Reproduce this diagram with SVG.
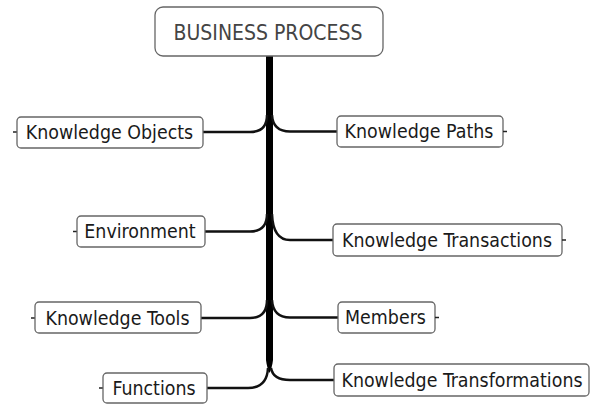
<svg xmlns="http://www.w3.org/2000/svg" width="592" height="404" viewBox="0 0 592 404">
<style>
.box{fill:#fff;stroke:#666;stroke-width:1.3}
.lbl{font-family:"DejaVu Sans Condensed","DejaVu Sans",sans-serif;font-size:19.4px;fill:#1a1a1a;text-anchor:middle}
.ttl{font-family:"DejaVu Sans Condensed","DejaVu Sans",sans-serif;font-size:21px;fill:#444;text-anchor:middle}
.br{fill:none;stroke:#111;stroke-width:2.5}
.stub{stroke:#222;stroke-width:1.5}
</style>
<rect width="592" height="404" fill="#fff"/>
<g id="connectors">
<path d="M266 56 L273 56 L273 360 Q272 368 269.5 373 Q267 368 266 360 Z" fill="#000"/>
<path class="br" d="M267 115 Q267 132 250 132 L203 132"/>
<path class="br" d="M272 115 Q273 131.5 290 131.5 L337 131.5"/>
<path class="br" d="M267 214 Q267 231.5 250 231.5 L205 231.5"/>
<path class="br" d="M272 214 Q273 240 290 240 L333 240"/>
<path class="br" d="M267 300 Q267 318 250 318 L201 318"/>
<path class="br" d="M272 300 Q273 317.5 290 317.5 L338 317.5"/>
<path class="br" d="M268 368 Q267 388 248 388 L207 388"/>
<path class="br" d="M271 368 Q273 380 290 380 L334 380"/>
</g>
<g id="root">
<rect class="box" x="155" y="7" width="228" height="49" rx="8"/>
<text class="ttl" x="268" y="40">BUSINESS PROCESS</text>
</g>
<g id="knowledge-objects">
<line class="stub" x1="13" y1="132" x2="17" y2="132"/>
<rect class="box" x="17" y="117" width="186" height="31" rx="4"/>
<text class="lbl" x="109.5" y="138.5">Knowledge Objects</text>
</g>
<g id="environment">
<line class="stub" x1="73" y1="231.5" x2="77" y2="231.5"/>
<rect class="box" x="77" y="216" width="128" height="31" rx="4"/>
<text class="lbl" x="140" y="238">Environment</text>
</g>
<g id="knowledge-tools">
<line class="stub" x1="31" y1="318" x2="35" y2="318"/>
<rect class="box" x="35" y="302" width="166" height="31" rx="4"/>
<text class="lbl" x="117.5" y="324.5">Knowledge Tools</text>
</g>
<g id="functions">
<line class="stub" x1="99" y1="388" x2="103" y2="388"/>
<rect class="box" x="103" y="373" width="104" height="30" rx="4"/>
<text class="lbl" x="154" y="394.5">Functions</text>
</g>
<g id="knowledge-paths">
<rect class="box" x="337" y="116" width="166" height="31" rx="4"/>
<line class="stub" x1="503" y1="131.5" x2="507" y2="131.5"/>
<text class="lbl" x="419" y="138">Knowledge Paths</text>
</g>
<g id="knowledge-transactions">
<rect class="box" x="333" y="224" width="229" height="32" rx="4"/>
<line class="stub" x1="562" y1="240" x2="566" y2="240"/>
<text class="lbl" x="447" y="246.5">Knowledge Transactions</text>
</g>
<g id="members">
<rect class="box" x="338" y="302" width="97" height="31" rx="4"/>
<line class="stub" x1="435" y1="317.5" x2="439" y2="317.5"/>
<text class="lbl" x="385.5" y="324">Members</text>
</g>
<g id="knowledge-transformations">
<rect class="box" x="334" y="364" width="255" height="32" rx="4"/>
<text class="lbl" x="462" y="386.5">Knowledge Transformations</text>
</g>
</svg>
